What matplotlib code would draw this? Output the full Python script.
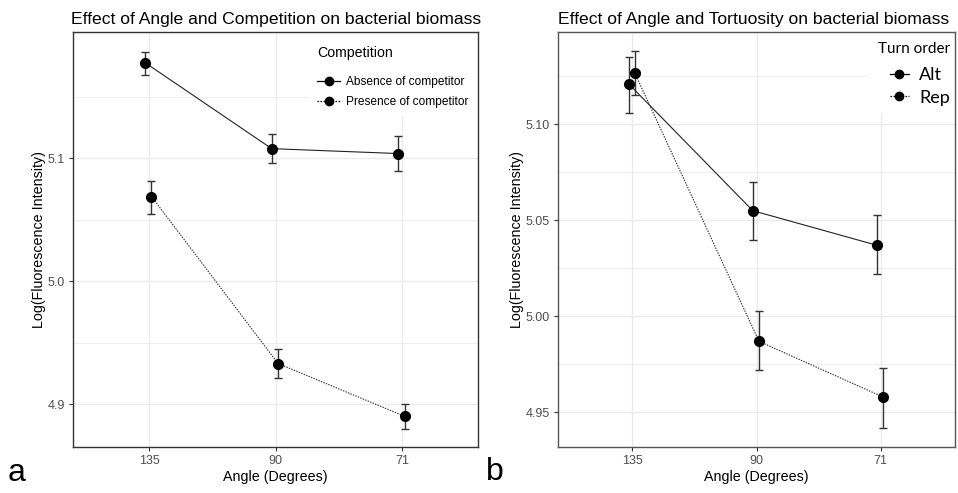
import numpy as np
import matplotlib
matplotlib.use('Agg')
import matplotlib.pyplot as plt
from matplotlib.lines import Line2D
from matplotlib.patches import Rectangle

plt.rcParams['font.family'] = ['Liberation Sans', 'DejaVu Sans']

angles = ['135', '90', '71']

# panel a: competition
absence_mean = [5.178, 5.108, 5.104]
absence_lo = [5.168, 5.096, 5.090]
absence_hi = [5.187, 5.120, 5.118]
presence_mean = [5.069, 4.933, 4.890]
presence_lo = [5.055, 4.921, 4.880]
presence_hi = [5.082, 4.945, 4.900]

# panel b: turn order
alt_mean = [5.121, 5.055, 5.037]
alt_lo = [5.106, 5.040, 5.022]
alt_hi = [5.135, 5.070, 5.053]
rep_mean = [5.1265, 4.987, 4.958]
rep_lo = [5.115, 4.972, 4.942]
rep_hi = [5.138, 5.003, 4.973]

GRID = '#ebebeb'
TICK = '#4d4d4d'
DOTTED = (0, (1.2, 1.2))


def style_axes(ax, major, minor, fmt, ylim, border='#333333'):
    ax.set_xticks(range(len(angles)))
    ax.set_xticklabels(angles)
    ax.set_yticks(major)
    ax.set_yticklabels([fmt.format(v) for v in major])
    ax.set_yticks(minor, minor=True)
    ax.set_xlim(-0.6, 2.6)
    ax.set_ylim(*ylim)
    ax.tick_params(axis='y', which='minor', length=0)
    ax.tick_params(axis='both', which='major', length=3, color='#333333',
                   labelcolor=TICK, labelsize=9, pad=3)
    ax.grid(True, which='major', color=GRID, linewidth=1.0)
    ax.grid(True, which='minor', axis='y', color=GRID, linewidth=0.6)
    ax.set_axisbelow(True)
    for s in ax.spines.values():
        s.set_color(border)
        s.set_linewidth(1.0)
    ax.set_xlabel('Angle (Degrees)', fontsize=10.3, labelpad=2)
    ax.set_ylabel('Log(Fluorescence Intensity)', fontsize=10.3, labelpad=1)


def draw_series(ax, mean, lo, hi, offset, ls):
    x = np.arange(len(mean)) + offset
    mean = np.array(mean)
    yerr = [mean - np.array(lo), np.array(hi) - mean]
    ax.plot(x, mean, color='#222222', linestyle=ls, linewidth=0.8, zorder=2)
    ax.errorbar(x, mean, yerr=yerr, fmt='none', ecolor='#333333',
                elinewidth=1.0, capsize=3, capthick=1.0, zorder=3)
    ax.plot(x, mean, 'o', color='black', markersize=7, zorder=4)


def legend_handles():
    return [Line2D([], [], color='black', ls='-', lw=0.9, marker='o', markersize=6),
            Line2D([], [], color='black', ls=DOTTED, lw=0.9, marker='o', markersize=6)]


fig = plt.figure(figsize=(9.58, 4.93), dpi=100)

# ---- panel a
ax1 = fig.add_axes([73 / 958, 46 / 493, 405 / 958, 415 / 493])
draw_series(ax1, absence_mean, absence_lo, absence_hi, -0.03, '-')
draw_series(ax1, presence_mean, presence_lo, presence_hi, 0.02, DOTTED)
style_axes(ax1, [4.9, 5.0, 5.1], [4.95, 5.05, 5.15], '{:.1f}', (4.865, 5.203))
ax1.set_title('Effect of Angle and Competition on bacterial biomass',
              fontsize=12.6, pad=6, loc='left', x=-0.005)
ax1.add_patch(Rectangle((0.585, 0.798), 0.415, 0.202, transform=ax1.transAxes,
                        facecolor='white', edgecolor='none', zorder=1))
leg1 = ax1.legend(legend_handles(), ['Absence of competitor', 'Presence of competitor'],
                  title='Competition', loc='upper left', bbox_to_anchor=(0.58, 0.99),
                  fontsize=8.6, title_fontsize=10.2, frameon=False,
                  handlelength=1.9, handletextpad=0.5, labelspacing=0.65,
                  borderpad=0.3)
leg1._legend_box.align = 'left'
leg1._legend_box.sep = 12

# ---- panel b
ax2 = fig.add_axes([558 / 958, 46 / 493, 397 / 958, 415 / 493])
draw_series(ax2, alt_mean, alt_lo, alt_hi, -0.03, '-')
draw_series(ax2, rep_mean, rep_lo, rep_hi, 0.02, DOTTED)
style_axes(ax2, [4.95, 5.00, 5.05, 5.10], [4.975, 5.025, 5.075, 5.125],
           '{:.2f}', (4.932, 5.148), border='#555555')
ax2.set_title('Effect of Angle and Tortuosity on bacterial biomass',
              fontsize=12.6, pad=6, loc='left', x=0.0)
ax2.add_patch(Rectangle((0.78, 0.805), 0.22, 0.195, transform=ax2.transAxes,
                        facecolor='white', edgecolor='none', zorder=1))
leg2 = ax2.legend(legend_handles(), ['Alt', 'Rep'], title='Turn order',
                  loc='upper right', bbox_to_anchor=(1.024, 1.01),
                  prop={'family': 'Lato', 'size': 13},
                  frameon=False, handlelength=1.1, handletextpad=0.55,
                  labelspacing=0.35, borderpad=0.3)
leg2.get_title().set_fontfamily('Lato')
leg2.get_title().set_fontsize(11)
leg2._legend_box.align = 'right'
leg2._legend_box.sep = 8

fig.text(8 / 958, 1 - 481 / 493, 'a', fontsize=23, va='baseline', ha='left')
fig.text(486 / 958, 1 - 480 / 493, 'b', fontsize=23, va='baseline', ha='left')

fig.savefig('out.png', dpi=100)
